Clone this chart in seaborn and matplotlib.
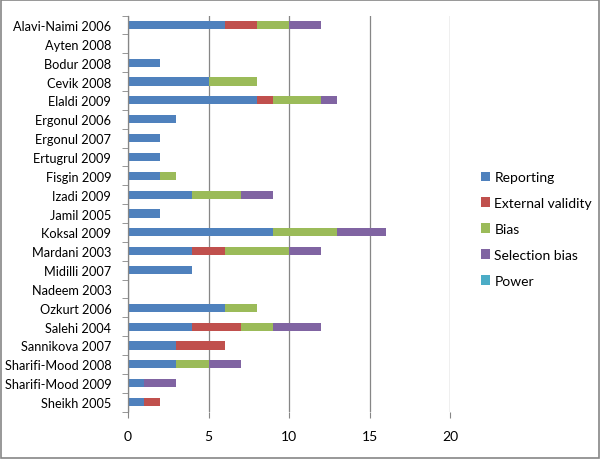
import numpy as np
import pandas as pd
import seaborn as sns
from matplotlib import pyplot as plt
from matplotlib.patches import Patch, Rectangle
from matplotlib.ticker import MultipleLocator

studies = ['Alavi-Naimi 2006', 'Ayten 2008', 'Bodur 2008', 'Cevik 2008', 'Elaldi 2009',
           'Ergonul 2006', 'Ergonul 2007', 'Ertugrul 2009', 'Fisgin 2009', 'Izadi 2009',
           'Jamil 2005', 'Koksal 2009', 'Mardani 2003', 'Midilli 2007', 'Nadeem 2003',
           'Ozkurt 2006', 'Salehi 2004', 'Sannikova 2007', 'Sharifi-Mood 2008',
           'Sharifi-Mood 2009', 'Sheikh 2005']
reporting = [6, 0, 2, 5, 8, 3, 2, 2, 2, 4, 2, 9, 4, 4, 0, 6, 4, 3, 3, 1, 1]
external_validity = [2, 0, 0, 0, 1, 0, 0, 0, 0, 0, 0, 0, 2, 0, 0, 0, 3, 3, 0, 0, 1]
bias = [2, 0, 0, 3, 3, 0, 0, 0, 1, 3, 0, 4, 4, 0, 0, 2, 2, 0, 2, 0, 0]
selection_bias = [2, 0, 0, 0, 1, 0, 0, 0, 0, 2, 0, 3, 2, 0, 0, 0, 3, 0, 2, 2, 0]
power = [0] * 21

series = ['Reporting', 'External validity', 'Bias', 'Selection bias', 'Power']
colors = ['#4F81BD', '#C0504D', '#9BBB59', '#8064A2', '#4BACC6']

df = pd.DataFrame({'Study': studies, 'Reporting': reporting,
                   'External validity': external_validity, 'Bias': bias,
                   'Selection bias': selection_bias, 'Power': power})
cum = df[series].cumsum(axis=1)
cum['Study'] = df['Study']

plt.rcParams['font.family'] = ['Lato', 'DejaVu Sans']
fig = plt.figure(figsize=(6, 4.6), dpi=100)
ax = fig.add_axes([128/600, 1-412.5/460, 322/600, 396/460])

# stacked bars: draw cumulative totals from the last series back to the first
for s, c in list(zip(series, colors))[::-1]:
    if df[s].sum() == 0:
        continue
    sns.barplot(data=cum, x=s, y='Study', order=studies, color=c, width=0.43,
                linewidth=0, saturation=1, ax=ax)

ax.set_xlim(0, 20)
ax.xaxis.set_major_locator(MultipleLocator(5))
ax.set_xlabel('')
ax.set_ylabel('')
ax.grid(axis='x', color='#868686', linewidth=0.9)
ax.set_axisbelow(True)
for sp in ['top', 'right', 'bottom']:
    ax.spines[sp].set_visible(False)
ax.spines['left'].set_color('#868686')
ax.spines['left'].set_linewidth(0.9)
ax.tick_params(axis='y', length=0, labelsize=9.2, pad=12)
ax.set_yticks(np.arange(-0.5, len(studies), 1), minor=True)
ax.tick_params(axis='y', which='minor', length=4, color='#868686', direction='out')
ax.tick_params(axis='x', length=4, color='#868686', labelsize=10, pad=9)

handles = [Patch(facecolor=c, label=s) for s, c in zip(series, colors)]
fig.legend(handles=handles, loc='center left', bbox_to_anchor=(475/600, 1-230/460),
           frameon=False, fontsize=10, handlelength=0.7, handleheight=0.7,
           handletextpad=0.3, labelspacing=1.0, borderaxespad=0)

fig.patches.append(Rectangle((0.002, 0.002), 0.996, 0.996, transform=fig.transFigure,
                             fill=False, edgecolor='#868686', linewidth=1.2))

fig.savefig('out.png', dpi=100)
